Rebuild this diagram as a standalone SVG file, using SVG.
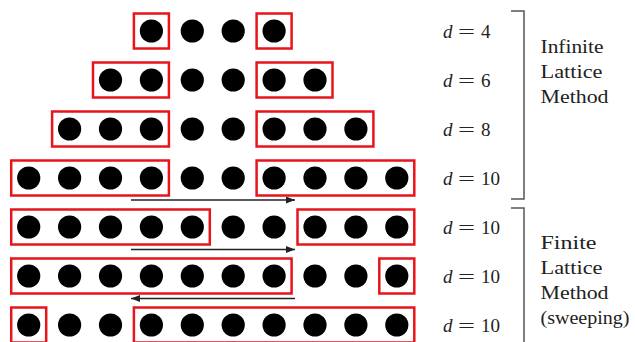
<svg xmlns="http://www.w3.org/2000/svg" width="635" height="342" viewBox="0 0 635 342">
<style>
.dot{fill:#000}
.box{fill:none;stroke:#e8141c;stroke-width:2.5}
.lbl{font-family:"Liberation Serif","DejaVu Serif",serif;font-size:19px;fill:#222}
.lbl .v{font-style:italic}
.br{fill:none;stroke:#555;stroke-width:1.5}
.arr{stroke:#222;stroke-width:1.3;fill:none}
</style>
<defs>
<marker id="ah" markerUnits="userSpaceOnUse" markerWidth="9" markerHeight="7" refX="9" refY="3.5" orient="auto">
<path d="M0,0 L9,3.5 L0,7 z" fill="#222"/>
</marker>
<circle id="d" r="11.6" class="dot"/>
</defs>
<rect width="635" height="342" fill="#fff"/>

<g id="row1">
<use href="#d" x="151.4" y="31"/><use href="#d" x="192.3" y="31"/><use href="#d" x="233.2" y="31"/><use href="#d" x="274.1" y="31"/>
<rect class="box" x="133.9" y="13.5" width="35" height="35"/>
<rect class="box" x="256.6" y="13.5" width="35" height="35"/>
</g>
<g id="row2">
<use href="#d" x="110.5" y="80"/><use href="#d" x="151.4" y="80"/><use href="#d" x="192.3" y="80"/><use href="#d" x="233.2" y="80"/><use href="#d" x="274.1" y="80"/><use href="#d" x="315" y="80"/>
<rect class="box" x="93" y="62.5" width="75.9" height="35"/>
<rect class="box" x="256.6" y="62.5" width="75.9" height="35"/>
</g>
<g id="row3">
<use href="#d" x="69.6" y="129"/><use href="#d" x="110.5" y="129"/><use href="#d" x="151.4" y="129"/><use href="#d" x="192.3" y="129"/><use href="#d" x="233.2" y="129"/><use href="#d" x="274.1" y="129"/><use href="#d" x="315" y="129"/><use href="#d" x="355.9" y="129"/>
<rect class="box" x="52.1" y="111.5" width="116.8" height="35"/>
<rect class="box" x="256.6" y="111.5" width="116.8" height="35"/>
</g>
<g id="row4">
<use href="#d" x="28.7" y="178"/><use href="#d" x="69.6" y="178"/><use href="#d" x="110.5" y="178"/><use href="#d" x="151.4" y="178"/><use href="#d" x="192.3" y="178"/><use href="#d" x="233.2" y="178"/><use href="#d" x="274.1" y="178"/><use href="#d" x="315" y="178"/><use href="#d" x="355.9" y="178"/><use href="#d" x="396.8" y="178"/>
<rect class="box" x="11.2" y="160.5" width="157.7" height="35"/>
<rect class="box" x="256.6" y="160.5" width="157.7" height="35"/>
</g>
<g id="row5">
<use href="#d" x="28.7" y="227"/><use href="#d" x="69.6" y="227"/><use href="#d" x="110.5" y="227"/><use href="#d" x="151.4" y="227"/><use href="#d" x="192.3" y="227"/><use href="#d" x="233.2" y="227"/><use href="#d" x="274.1" y="227"/><use href="#d" x="315" y="227"/><use href="#d" x="355.9" y="227"/><use href="#d" x="396.8" y="227"/>
<rect class="box" x="11.2" y="209.5" width="198.6" height="35"/>
<rect class="box" x="297.5" y="209.5" width="116.8" height="35"/>
</g>
<g id="row6">
<use href="#d" x="28.7" y="276"/><use href="#d" x="69.6" y="276"/><use href="#d" x="110.5" y="276"/><use href="#d" x="151.4" y="276"/><use href="#d" x="192.3" y="276"/><use href="#d" x="233.2" y="276"/><use href="#d" x="274.1" y="276"/><use href="#d" x="315" y="276"/><use href="#d" x="355.9" y="276"/><use href="#d" x="396.8" y="276"/>
<rect class="box" x="11.2" y="258.5" width="280.4" height="35"/>
<rect class="box" x="379.3" y="258.5" width="35" height="35"/>
</g>
<g id="row7">
<use href="#d" x="28.7" y="325"/><use href="#d" x="69.6" y="325"/><use href="#d" x="110.5" y="325"/><use href="#d" x="151.4" y="325"/><use href="#d" x="192.3" y="325"/><use href="#d" x="233.2" y="325"/><use href="#d" x="274.1" y="325"/><use href="#d" x="315" y="325"/><use href="#d" x="355.9" y="325"/><use href="#d" x="396.8" y="325"/>
<rect class="box" x="11.2" y="307.5" width="35" height="35"/>
<rect class="box" x="133.9" y="307.5" width="280.4" height="35"/>
</g>

<g id="connectors">
<line class="arr" x1="131" y1="200" x2="295" y2="200" marker-end="url(#ah)"/>
<line class="arr" x1="131" y1="249.5" x2="295" y2="249.5" marker-end="url(#ah)"/>
<line class="arr" x1="295" y1="298.5" x2="131" y2="298.5" marker-end="url(#ah)"/>
</g>

<g id="labels" class="lbl">
<text y="38"><tspan class="v" x="443">d</tspan><tspan x="458" textLength="17" lengthAdjust="spacingAndGlyphs">=</tspan><tspan x="481">4</tspan></text>
<text y="87"><tspan class="v" x="443">d</tspan><tspan x="458" textLength="17" lengthAdjust="spacingAndGlyphs">=</tspan><tspan x="481">6</tspan></text>
<text y="136"><tspan class="v" x="443">d</tspan><tspan x="458" textLength="17" lengthAdjust="spacingAndGlyphs">=</tspan><tspan x="481">8</tspan></text>
<text y="185"><tspan class="v" x="443">d</tspan><tspan x="458" textLength="17" lengthAdjust="spacingAndGlyphs">=</tspan><tspan x="481">10</tspan></text>
<text y="234"><tspan class="v" x="443">d</tspan><tspan x="458" textLength="17" lengthAdjust="spacingAndGlyphs">=</tspan><tspan x="481">10</tspan></text>
<text y="283"><tspan class="v" x="443">d</tspan><tspan x="458" textLength="17" lengthAdjust="spacingAndGlyphs">=</tspan><tspan x="481">10</tspan></text>
<text y="332"><tspan class="v" x="443">d</tspan><tspan x="458" textLength="17" lengthAdjust="spacingAndGlyphs">=</tspan><tspan x="481">10</tspan></text>
</g>

<g id="infinite">
<path class="br" d="M511,11 H524 V199 H511"/>
<g class="lbl">
<text x="540.5" y="53" textLength="63" lengthAdjust="spacingAndGlyphs">Infinite</text>
<text x="540.5" y="78" textLength="62" lengthAdjust="spacingAndGlyphs">Lattice</text>
<text x="540.5" y="103" textLength="68" lengthAdjust="spacingAndGlyphs">Method</text>
</g>
</g>
<g id="finite">
<path class="br" d="M511,208 H524 V342"/>
<g class="lbl">
<text x="540.5" y="249" textLength="56" lengthAdjust="spacingAndGlyphs">Finite</text>
<text x="540.5" y="274" textLength="62" lengthAdjust="spacingAndGlyphs">Lattice</text>
<text x="540.5" y="299" textLength="68" lengthAdjust="spacingAndGlyphs">Method</text>
<text x="540.5" y="324" textLength="89" lengthAdjust="spacingAndGlyphs">(sweeping)</text>
</g>
</g>
</svg>
